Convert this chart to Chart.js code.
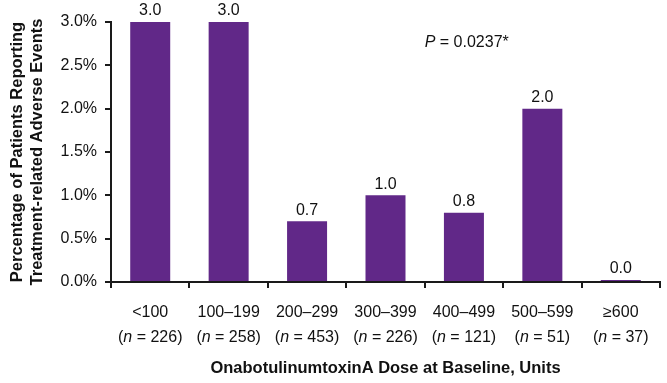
<!DOCTYPE html>
<html>
<head>
<meta charset="utf-8">
<script src="https://cdn.jsdelivr.net/npm/chart.js@4"></script>
<style>
  body { margin: 0; background: #fff; }
</style>
</head>
<body>
<canvas id="myChart" width="667" height="383"></canvas>
<script>
  const doseLabels = ['<100', '100–199', '200–299', '300–399', '400–499', '500–599', '≥600'];
  const sampleSizes = [226, 258, 453, 226, 121, 51, 37];
  const aePercent = [3.0, 3.0, 0.7, 1.0, 0.8, 2.0, 0.0];
  const pValueText = '0.0237*';

  const FONT = '"Liberation Sans", Arial, sans-serif';
  const INK = '#111';

  // draws value labels, two-line x labels (italic n) and the P value note
  const textPlugin = {
    id: 'textPlugin',
    afterDatasetsDraw(chart) {
      const ctx = chart.ctx;
      const xs = chart.scales.x, ys = chart.scales.y;
      ctx.save();
      ctx.fillStyle = INK;
      ctx.font = '16px ' + FONT;
      ctx.textAlign = 'center';
      ctx.textBaseline = 'bottom';
      chart.getDatasetMeta(0).data.forEach((bar, i) => {
        ctx.fillText(aePercent[i].toFixed(1), bar.x, bar.y - 3);
      });

      ctx.textBaseline = 'middle';
      doseLabels.forEach((lab, i) => {
        const cx = xs.getPixelForValue(i);
        ctx.font = '16px ' + FONT;
        ctx.textAlign = 'center';
        ctx.fillText(lab, cx, xs.top + 31);
        const parts = [
          ['(', '16px ' + FONT],
          ['n', 'italic 16px ' + FONT],
          [' = ' + sampleSizes[i] + ')', '16px ' + FONT]
        ];
        let w = 0;
        parts.forEach(p => { ctx.font = p[1]; w += ctx.measureText(p[0]).width; });
        let px = cx - w / 2;
        ctx.textAlign = 'left';
        parts.forEach(p => {
          ctx.font = p[1];
          ctx.fillText(p[0], px, xs.top + 56);
          px += ctx.measureText(p[0]).width;
        });
      });

      // P value annotation
      let px = xs.getPixelForValue(3.5);
      const py = ys.getPixelForValue(2.76);
      ctx.textAlign = 'left';
      ctx.font = 'italic 16px ' + FONT;
      ctx.fillText('P', px, py);
      px += ctx.measureText('P').width;
      ctx.font = '16px ' + FONT;
      ctx.fillText(' = ' + pValueText, px, py);
      ctx.restore();
    }
  };

  const data = {
    labels: doseLabels,
    datasets: [{
      data: aePercent,
      backgroundColor: '#612888',
      borderWidth: 0,
      barPercentage: 0.51,
      categoryPercentage: 1.0,
      minBarLength: 2
    }]
  };

  const config = {
    type: 'bar',
    data: data,
    plugins: [textPlugin],
    options: {
      responsive: false,
      animation: false,
      layout: { padding: { left: 0, right: 7, top: 22, bottom: 0 } },
      plugins: { legend: { display: false }, tooltip: { enabled: false } },
      scales: {
        x: {
          grid: { drawOnChartArea: false, color: '#1a1a1a', lineWidth: 2, tickLength: 6 },
          border: { color: '#1a1a1a', width: 2 },
          ticks: { color: 'transparent', font: { size: 16, family: FONT } },
          title: {
            display: true,
            text: 'OnabotulinumtoxinA Dose at Baseline, Units',
            color: INK,
            font: { size: 16.5, weight: 'bold', family: FONT },
            padding: { top: 0, bottom: 5 }
          },
          afterFit(scale) { scale.height = 101; }
        },
        y: {
          min: 0,
          max: 3,
          grid: { drawOnChartArea: false, color: '#1a1a1a', lineWidth: 2, tickLength: 6 },
          border: { color: '#1a1a1a', width: 2 },
          ticks: {
            stepSize: 0.5,
            padding: 8,
            color: INK,
            font: { size: 16, family: FONT },
            callback: v => v.toFixed(1) + '%'
          },
          title: {
            display: true,
            text: ['Percentage of Patients Reporting', 'Treatment-related Adverse Events'],
            color: INK,
            font: { size: 16.5, weight: 'bold', family: FONT, lineHeight: 1.2 },
            padding: { top: 8, bottom: 0 }
          },
          afterFit(scale) { scale.width = 111; }
        }
      }
    }
  };

  const myChart = new Chart(document.getElementById('myChart'), config);
</script>
</body>
</html>
